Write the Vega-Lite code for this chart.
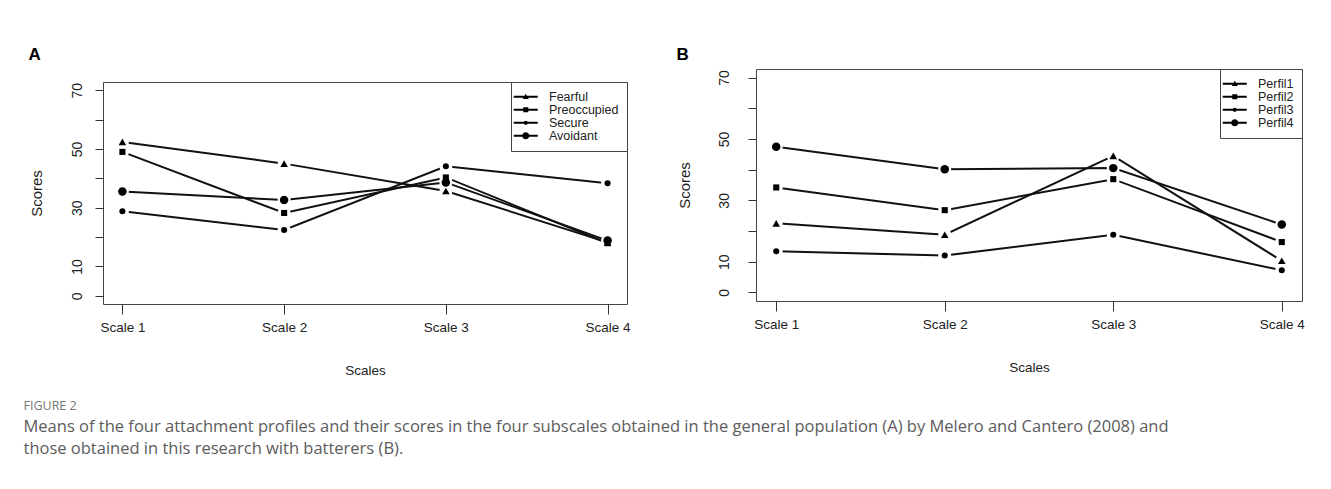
{
  "$schema": "https://vega.github.io/schema/vega-lite/v6.json",
  "background": "white",
  "padding": {"left": 23, "top": 45, "right": 10, "bottom": 10},
  "spacing": 45,
  "resolve": {"scale": {"shape": "independent", "size": "independent", "x": "independent", "y": "independent"}, "legend": {"shape": "independent"}},
  "config": {
    "view": {"stroke": "#444", "strokeWidth": 1},
    "axis": {"grid": false, "domain": false, "tickColor": "#333", "tickWidth": 1, "labelColor": "#222", "titleColor": "#222", "titleFontWeight": "normal", "labelFlush": false, "labelOverlap": false},
    "axisX": {"tickSize": 10, "labelPadding": 6, "labelFont": "Liberation Sans, Arial, sans-serif", "labelFontSize": 13.5, "labelAngle": 0, "titleFont": "Liberation Sans, Arial, sans-serif", "titleFontSize": 13.5, "titlePadding": 30},
    "axisY": {"tickSize": 8, "labelFont": "Liberation Sans, Arial, sans-serif", "labelFontSize": 14, "labelAngle": -90, "labelAlign": "center", "labelBaseline": "alphabetic", "titleFont": "Liberation Sans, Arial, sans-serif", "titleFontSize": 15, "titlePadding": 26},
    "legend": {"orient": "top-right", "offset": 0, "padding": 8.5, "strokeColor": "#444", "fillColor": "white", "labelFont": "Liberation Sans, Arial, sans-serif", "labelFontSize": 12.5, "labelColor": "#222", "rowPadding": 0, "labelOffset": 17, "symbolSize": 144, "symbolOpacity": 1, "symbolStrokeWidth": 0, "symbolFillColor": "#000", "cornerRadius": 0}
  },
  "datasets": {
    "a": [
      {"series": "Fearful", "scale": "Scale 1", "value": 52.4},
      {"series": "Fearful", "scale": "Scale 2", "value": 45.0},
      {"series": "Fearful", "scale": "Scale 3", "value": 35.7},
      {"series": "Fearful", "scale": "Scale 4", "value": 18.2},
      {"series": "Preoccupied", "scale": "Scale 1", "value": 49.0},
      {"series": "Preoccupied", "scale": "Scale 2", "value": 28.2},
      {"series": "Preoccupied", "scale": "Scale 3", "value": 40.3},
      {"series": "Preoccupied", "scale": "Scale 4", "value": 17.9},
      {"series": "Secure", "scale": "Scale 1", "value": 28.8},
      {"series": "Secure", "scale": "Scale 2", "value": 22.4},
      {"series": "Secure", "scale": "Scale 3", "value": 44.1},
      {"series": "Secure", "scale": "Scale 4", "value": 38.3},
      {"series": "Avoidant", "scale": "Scale 1", "value": 35.5},
      {"series": "Avoidant", "scale": "Scale 2", "value": 32.6},
      {"series": "Avoidant", "scale": "Scale 3", "value": 38.6},
      {"series": "Avoidant", "scale": "Scale 4", "value": 18.8}
    ],
    "b": [
      {"series": "Perfil1", "scale": "Scale 1", "value": 22.5},
      {"series": "Perfil1", "scale": "Scale 2", "value": 18.8},
      {"series": "Perfil1", "scale": "Scale 3", "value": 44.5},
      {"series": "Perfil1", "scale": "Scale 4", "value": 10.3},
      {"series": "Perfil2", "scale": "Scale 1", "value": 34.2},
      {"series": "Perfil2", "scale": "Scale 2", "value": 26.8},
      {"series": "Perfil2", "scale": "Scale 3", "value": 36.9},
      {"series": "Perfil2", "scale": "Scale 4", "value": 16.4},
      {"series": "Perfil3", "scale": "Scale 1", "value": 13.4},
      {"series": "Perfil3", "scale": "Scale 2", "value": 12.0},
      {"series": "Perfil3", "scale": "Scale 3", "value": 18.8},
      {"series": "Perfil3", "scale": "Scale 4", "value": 7.2},
      {"series": "Perfil4", "scale": "Scale 1", "value": 47.5},
      {"series": "Perfil4", "scale": "Scale 2", "value": 40.1},
      {"series": "Perfil4", "scale": "Scale 3", "value": 40.5},
      {"series": "Perfil4", "scale": "Scale 4", "value": 22.1}
    ]
  },
  "title": {
    "text": "FIGURE 2",
    "orient": "bottom",
    "anchor": "start",
    "frame": "bounds",
    "dx": -5,
    "offset": 22,
    "font": "Open Sans, sans-serif",
    "fontSize": 12.5,
    "fontWeight": "normal",
    "color": "#777",
    "subtitle": [
      "Means of the four attachment profiles and their scores in the four subscales obtained in the general population (A) by Melero and Cantero (2008) and",
      "those obtained in this research with batterers (B)."
    ],
    "subtitleFont": "Open Sans, sans-serif",
    "subtitleFontSize": 16.5,
    "subtitleColor": "#5c5c5c",
    "subtitleLineHeight": 22,
    "subtitlePadding": 7
  },
  "hconcat": [
    {
      "title": {"text": "A", "anchor": "start", "frame": "bounds", "font": "Liberation Sans, Arial, sans-serif", "fontSize": 17, "fontWeight": "bold", "color": "#000", "offset": -7},
      "spacing": 13,
      "resolve": {"scale": {"shape": "independent"}, "legend": {"shape": "independent"}},
      "vconcat": [
        {
          "width": 524,
          "height": 1,
          "view": {"stroke": null},
          "data": {"values": [{}]},
          "mark": {"type": "text", "text": ""}
        },
        {
          "width": 524,
          "height": 222,
          "data": {"name": "a"},
          "encoding": {
            "x": {"field": "scale", "type": "nominal", "sort": ["Scale 1", "Scale 2", "Scale 3", "Scale 4"], "scale": {"type": "point", "padding": 0.12}, "axis": {"title": "Scales"}},
            "y": {"field": "value", "type": "quantitative", "scale": {"domain": [-2.8, 72.8], "nice": false, "zero": false}, "axis": {"title": "Scores", "values": [0, 10, 20, 30, 40, 50, 60, 70], "labelExpr": "datum.value == 20 || datum.value == 40 || datum.value == 60 ? '' : datum.label", "labelPadding": 14}}
          },
          "resolve": {"scale": {"shape": "independent"}, "legend": {"shape": "independent"}},
          "layer": [
            {"mark": {"type": "line", "color": "#111", "strokeWidth": 2}, "encoding": {"detail": {"field": "series"}}},
            {"mark": {"type": "point", "filled": true, "color": "white", "opacity": 1, "size": 170, "shape": "circle"}, "encoding": {}},
            {
              "mark": {"type": "point", "filled": true, "color": "#000", "opacity": 1},
              "encoding": {
                "shape": {"field": "series", "type": "nominal", "scale": {"domain": ["Fearful", "Preoccupied", "Secure", "Avoidant"], "range": ["triangle-up", "square", "circle", "circle"]}, "legend": null},
                "size": {"condition": [{"test": "datum.series === 'Avoidant'", "value": 72}, {"test": "datum.series === 'Fearful'", "value": 58}], "value": 37}
              }
            },
            {
              "mark": {"type": "point", "filled": true, "color": "#000", "opacity": 0, "size": 144},
              "encoding": {
                "shape": {"field": "series", "type": "nominal", "title": null,
                  "scale": {"domain": ["Fearful", "Preoccupied", "Secure", "Avoidant"], "range": [
                    "M-2,-0.16H2V0.16H-2ZM0,-0.5L0.5,0.37L-0.5,0.37Z",
                    "M-2,-0.16H2V0.16H-2ZM-0.42,-0.42H0.42V0.42H-0.42Z",
                    "M-2,-0.16H2V0.16H-2ZM-0.34,0A0.34,0.34,0,1,1,0.34,0A0.34,0.34,0,1,1,-0.34,0Z",
                    "M-2,-0.16H2V0.16H-2ZM-0.6,0A0.6,0.6,0,1,1,0.6,0A0.6,0.6,0,1,1,-0.6,0Z"
                  ]},
                  "legend": {"title": null, "orient": "top-right"}}
              }
            }
          ]
        }
      ]
    },
    {
      "title": {"text": "B", "anchor": "start", "frame": "bounds", "font": "Liberation Sans, Arial, sans-serif", "fontSize": 17, "fontWeight": "bold", "color": "#000", "offset": -7},
      "spacing": 0,
      "resolve": {"scale": {"shape": "independent"}, "legend": {"shape": "independent"}},
      "vconcat": [
        {
          "width": 546,
          "height": 1,
          "view": {"stroke": null},
          "data": {"values": [{}]},
          "mark": {"type": "text", "text": ""}
        },
        {
          "width": 546,
          "height": 232,
          "data": {"name": "b"},
          "encoding": {
            "x": {"field": "scale", "type": "nominal", "sort": ["Scale 1", "Scale 2", "Scale 3", "Scale 4"], "scale": {"type": "point", "padding": 0.12}, "axis": {"title": "Scales"}},
            "y": {"field": "value", "type": "quantitative", "scale": {"domain": [-2.8, 72.8], "nice": false, "zero": false}, "axis": {"title": "Scores", "values": [0, 10, 20, 30, 40, 50, 60, 70], "labelExpr": "datum.value == 20 || datum.value == 40 || datum.value == 60 ? '' : datum.label", "labelPadding": 20, "titlePadding": 25}}
          },
          "resolve": {"scale": {"shape": "independent"}, "legend": {"shape": "independent"}},
          "layer": [
            {"mark": {"type": "line", "color": "#111", "strokeWidth": 2}, "encoding": {"detail": {"field": "series"}}},
            {"mark": {"type": "point", "filled": true, "color": "white", "opacity": 1, "size": 170, "shape": "circle"}, "encoding": {}},
            {
              "mark": {"type": "point", "filled": true, "color": "#000", "opacity": 1},
              "encoding": {
                "shape": {"field": "series", "type": "nominal", "scale": {"domain": ["Perfil1", "Perfil2", "Perfil3", "Perfil4"], "range": ["triangle-up", "square", "circle", "circle"]}, "legend": null},
                "size": {"condition": [{"test": "datum.series === 'Perfil4'", "value": 72}, {"test": "datum.series === 'Perfil1'", "value": 58}], "value": 37}
              }
            },
            {
              "mark": {"type": "point", "filled": true, "color": "#000", "opacity": 0, "size": 144},
              "encoding": {
                "shape": {"field": "series", "type": "nominal", "title": null,
                  "scale": {"domain": ["Perfil1", "Perfil2", "Perfil3", "Perfil4"], "range": [
                    "M-2,-0.16H2V0.16H-2ZM0,-0.5L0.5,0.37L-0.5,0.37Z",
                    "M-2,-0.16H2V0.16H-2ZM-0.42,-0.42H0.42V0.42H-0.42Z",
                    "M-2,-0.16H2V0.16H-2ZM-0.34,0A0.34,0.34,0,1,1,0.34,0A0.34,0.34,0,1,1,-0.34,0Z",
                    "M-2,-0.16H2V0.16H-2ZM-0.6,0A0.6,0.6,0,1,1,0.6,0A0.6,0.6,0,1,1,-0.6,0Z"
                  ]},
                  "legend": {"title": null, "orient": "top-right"}}
              }
            }
          ]
        }
      ]
    }
  ]
}
